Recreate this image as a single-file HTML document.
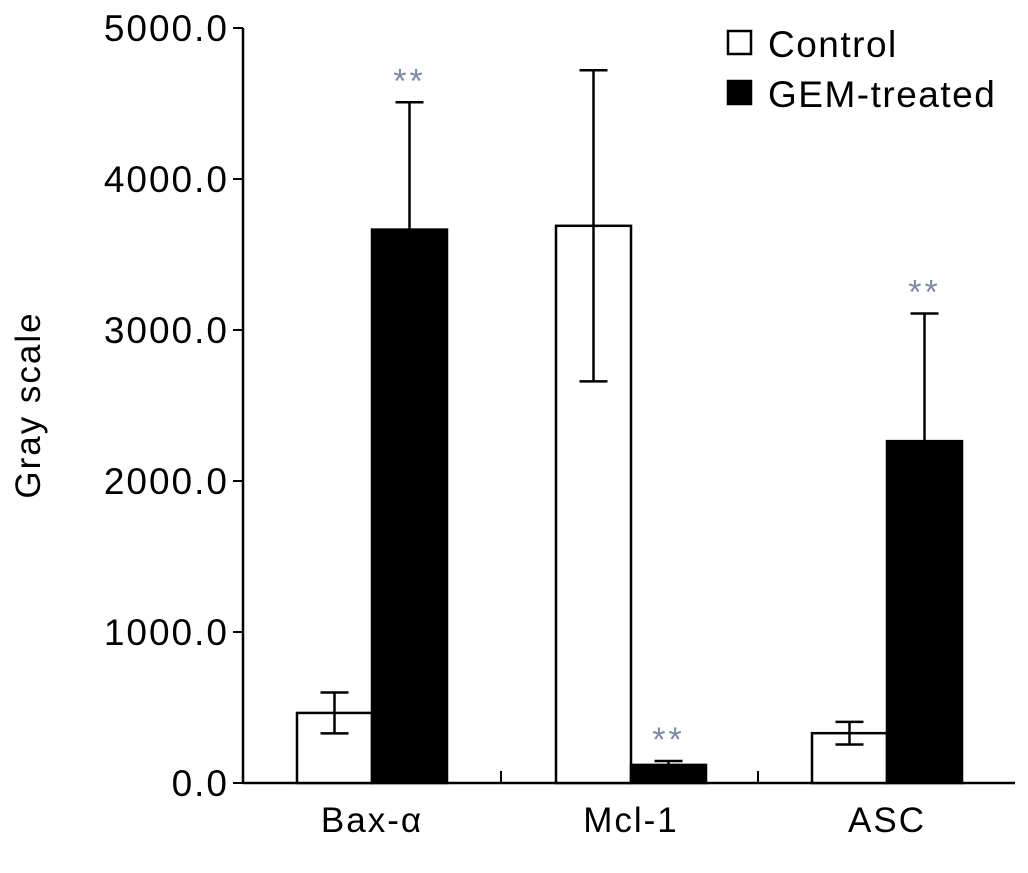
<!DOCTYPE html>
<html><head><meta charset="utf-8"><style>
body{margin:0;background:#fff;}
svg{font-family:"Liberation Sans",Arial,sans-serif;}
</style></head><body>
<svg id="chart" width="1028" height="868" xmlns="http://www.w3.org/2000/svg"></svg>
<script>
const categories=["Bax-\u03b1","Mcl-1","ASC"];
const controlValues=[464,3690,330];
const controlErrors=[135,1030,75];
const gemValues=[3665,120,2264];
const gemErrors=[843,26,845];
const gemSig=["**","**","**"];
const yTicks=[0,1000,2000,3000,4000,5000];
const yTickLabels=["0.0","1000.0","2000.0","3000.0","4000.0","5000.0"];

const NS="http://www.w3.org/2000/svg";
const svg=document.getElementById('chart');
const x0=243,y0=783,yTop=28,yMax=5000;
const groupStart=[297,556,812],barW=75;
function y(v){return y0-(v/yMax)*(y0-yTop);}
function mk(tag,attrs,parent){const e=document.createElementNS(NS,tag);for(const k in attrs)e.setAttribute(k,attrs[k]);(parent||svg).appendChild(e);return e;}

let ax=mk('line',{x1:x0,y1:yTop,x2:x0,y2:y0,stroke:'#000','stroke-width':2.5});


let xa=mk('line',{x1:x0,y1:y0,x2:1015,y2:y0,stroke:'#000','stroke-width':2.5});


yTicks.forEach((t,i)=>{
  let tk=mk('line',{x1:x0-10,y1:y(t),x2:x0,y2:y(t),stroke:'#000','stroke-width':2});
  
  
  let tl=mk('text',{x:229,y:y(t)+13,'text-anchor':'end','font-size':37,'letter-spacing':'2'});
  tl.textContent=yTickLabels[i];
  
  
});
[501,758].forEach(xx=>{
  let tk=mk('line',{x1:xx,y1:y0-12,x2:xx,y2:y0,stroke:'#000','stroke-width':2});
  
  
});
let yt=mk('text',{x:0,y:0,'text-anchor':'middle','font-size':35,'letter-spacing':'2',transform:'translate(40,405) rotate(-90)'});
yt.textContent='Gray scale';



function errBar(cx,v,e,down){
  mk('line',{x1:cx,y1:y(v+e),x2:cx,y2:down?y(v-e):y(v),stroke:'#000','stroke-width':2.5});
  mk('line',{x1:cx-14,y1:y(v+e),x2:cx+14,y2:y(v+e),stroke:'#000','stroke-width':2.5});
  if(down)mk('line',{x1:cx-14,y1:y(v-e),x2:cx+14,y2:y(v-e),stroke:'#000','stroke-width':2.5});
}
categories.forEach((c,i)=>{
  const gx=groupStart[i];
  let b1=mk('rect',{x:gx,y:y(controlValues[i]),width:barW,height:y0-y(controlValues[i]),fill:'#fff',stroke:'#000','stroke-width':2.5});
  
  
  errBar(gx+barW/2,controlValues[i],controlErrors[i],true);
  let b2=mk('rect',{x:gx+barW,y:y(gemValues[i]),width:barW,height:y0-y(gemValues[i]),fill:'#000',stroke:'#000','stroke-width':2.5});
  
  
  errBar(gx+barW*1.5,gemValues[i],gemErrors[i],false);
  let s=mk('text',{x:gx+barW*1.5,y:y(gemValues[i]+gemErrors[i])-10,'text-anchor':'middle','font-size':34,'letter-spacing':'3',fill:'#7a8aa8'});
  s.textContent=gemSig[i];
  
  
  let l=mk('text',{x:gx+barW,y:832,'text-anchor':'middle','font-size':35,'letter-spacing':'2'});
  l.textContent=c;
  
  
});
let lg=mk('g',{});


let r1=mk('rect',{x:728,y:31,width:23,height:23,fill:'#fff',stroke:'#000','stroke-width':2.5},lg);


let t1=mk('text',{x:768,y:57,'font-size':37,'letter-spacing':'1.5'},lg);t1.textContent='Control';


let r2=mk('rect',{x:728,y:81,width:23,height:23,fill:'#000',stroke:'#000','stroke-width':2.5},lg);


let t2=mk('text',{x:768,y:107,'font-size':37,'letter-spacing':'1.5'},lg);t2.textContent='GEM-treated';


</script>
</body></html>
